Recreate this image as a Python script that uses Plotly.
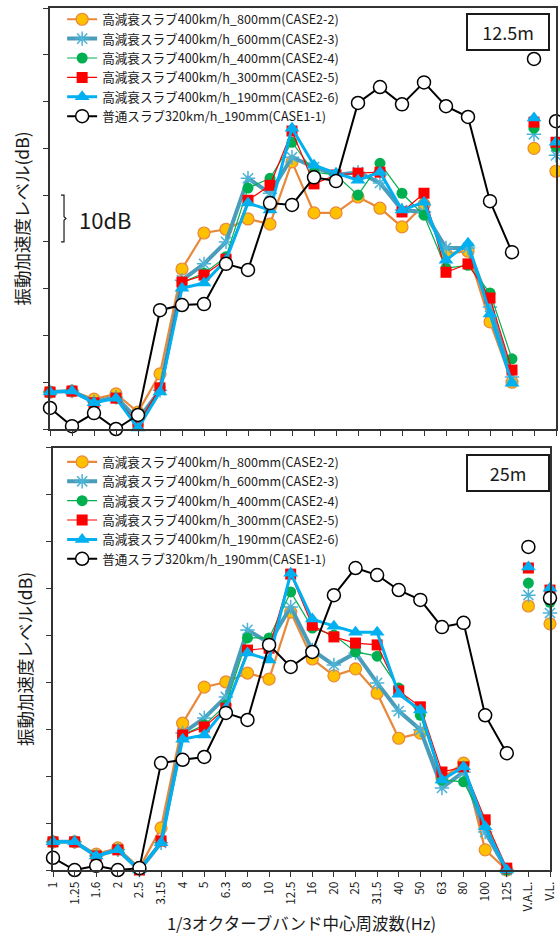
import plotly.graph_objects as go

# ---------------- data ----------------
categories = ["1", "1.25", "1.6", "2", "2.5", "3.15", "4", "5", "6.3", "8", "10", "12.5",
              "16", "20", "25", "31.5", "40", "50", "63", "80", "100", "125"]
overall_labels = ["V.A.L.", "V.L."]

series_names = [
    "高減衰スラブ400km/h_800mm(CASE2-2)",
    "高減衰スラブ400km/h_600mm(CASE2-3)",
    "高減衰スラブ400km/h_400mm(CASE2-4)",
    "高減衰スラブ400km/h_300mm(CASE2-5)",
    "高減衰スラブ400km/h_190mm(CASE2-6)",
    "普通スラブ320km/h_190mm(CASE1-1)",
]

# 12.5 m (relative dB)
case2_2_12m = [7.9, 8.1, 6.4, 7.5, 3.6, 11.8, 34.2, 41.9, 42.7, 44.9, 43.8, 57.1, 46.2, 46.2, 49.6, 47.2, 43.2, 48.0, 37.5, 38.0, 22.9, 10.0]
case2_3_12m = [7.9, 8.1, 5.8, 6.8, 2.0, 8.3, 31.8, 35.3, 40.0, 53.6, 50.4, 58.1, 56.0, 54.3, 54.9, 52.6, 46.8, 46.4, 38.7, 38.7, 26.1, 11.1]
case2_4_12m = [7.9, 8.1, 5.6, 6.6, 0.9, 8.8, 31.4, 33.3, 36.8, 51.5, 53.6, 61.3, 54.9, 54.3, 50.0, 56.8, 50.4, 45.7, 34.4, 35.0, 29.1, 15.0]
case2_5_12m = [7.9, 8.1, 5.6, 6.6, 1.1, 8.8, 31.4, 32.9, 36.3, 48.9, 52.1, 63.7, 52.4, 54.3, 54.7, 54.9, 46.4, 50.4, 33.5, 35.3, 28.0, 12.6]
case2_6_12m = [7.9, 8.1, 5.6, 6.6, 0.2, 7.9, 30.1, 31.2, 36.1, 48.3, 46.8, 64.3, 56.4, 54.7, 53.2, 54.9, 46.8, 48.5, 36.1, 39.7, 24.6, 9.8]
case1_1_12m = [4.5, 0.6, 3.4, 0.0, 3.0, 25.4, 26.5, 26.7, 35.3, 34.0, 48.3, 47.9, 53.8, 53.0, 69.7, 73.1, 69.4, 74.1, 69.0, 66.7, 48.7, 37.8]
case2_2_12m_all = [60.0, 55.1]
case2_3_12m_all = [63.0, 58.5]
case2_4_12m_all = [64.3, 60.3]
case2_5_12m_all = [65.6, 61.3]
case2_6_12m_all = [66.5, 61.3]
case1_1_12m_all = [79.1, 65.8]

# 25 m (relative dB)
case2_2_25m = [6.0, 6.0, 3.4, 4.7, 0.4, 9.0, 31.3, 39.0, 40.1, 42.0, 40.7, 55.0, 45.0, 41.4, 42.9, 37.7, 28.1, 29.2, 19.6, 22.8, 4.3, 0.0]
case2_3_25m = [6.0, 6.0, 3.0, 4.3, 0.0, 5.8, 29.2, 32.4, 36.9, 51.2, 48.4, 56.1, 46.9, 43.7, 46.3, 39.9, 33.9, 29.9, 17.5, 20.9, 8.1, 0.0]
case2_4_25m = [6.0, 6.0, 3.0, 4.3, 0.0, 6.2, 28.8, 30.9, 35.2, 49.5, 49.5, 59.3, 51.6, 50.1, 46.5, 45.6, 38.8, 33.0, 19.2, 18.8, 10.0, 0.0]
case2_5_25m = [6.0, 6.0, 3.0, 4.3, 0.0, 6.2, 28.8, 30.5, 34.5, 46.9, 47.3, 63.1, 52.2, 49.7, 48.4, 48.0, 38.2, 34.8, 20.9, 22.0, 10.7, 0.4]
case2_6_25m = [6.0, 6.0, 3.0, 4.3, 0.0, 5.8, 27.9, 28.8, 34.5, 46.3, 44.8, 63.3, 53.5, 52.0, 50.7, 50.7, 37.5, 34.1, 19.2, 22.0, 9.2, 0.0]
case1_1_25m = [2.6, 0.0, 0.9, 0.0, 0.4, 22.8, 23.5, 24.1, 33.5, 32.0, 48.0, 43.3, 46.5, 58.6, 64.4, 62.9, 59.7, 57.6, 51.8, 52.7, 33.0, 24.9]
case2_2_25m_all = [56.3, 52.5]
case2_3_25m_all = [58.6, 54.8]
case2_4_25m_all = [61.2, 57.1]
case2_5_25m_all = [64.4, 59.7]
case2_6_25m_all = [64.6, 60.1]
case1_1_25m_all = [68.9, 58.0]

panel_labels = ["12.5m", "25m"]

# ---------------- styles ----------------
styles = [
    dict(line=dict(color="#E8883A", width=2.2),
         marker=dict(symbol="circle", size=12, color="#FFC000", line=dict(color="#E8883A", width=1.2))),
    dict(line=dict(color="#4A9DBA", width=4),
         marker=dict(symbol="asterisk-open", size=12, color="#4BB3D6", line=dict(color="#4BB3D6", width=1.5))),
    dict(line=dict(color="#00B050", width=1.2),
         marker=dict(symbol="circle", size=11, color="#00B050", line=dict(width=0))),
    dict(line=dict(color="#FF0000", width=1.2),
         marker=dict(symbol="square", size=11, color="#FF0000", line=dict(width=0))),
    dict(line=dict(color="#00B0F0", width=3),
         marker=dict(symbol="triangle-up", size=13, color="#00B0F0", line=dict(width=0))),
    dict(line=dict(color="#000000", width=2),
         marker=dict(symbol="circle", size=13, color="#FFFFFF", line=dict(color="#000000", width=1.5))),
]

panels = [
    ([case2_2_12m, case2_3_12m, case2_4_12m, case2_5_12m, case2_6_12m, case1_1_12m],
     [case2_2_12m_all, case2_3_12m_all, case2_4_12m_all, case2_5_12m_all, case2_6_12m_all, case1_1_12m_all]),
    ([case2_2_25m, case2_3_25m, case2_4_25m, case2_5_25m, case2_6_25m, case1_1_25m],
     [case2_2_25m_all, case2_3_25m_all, case2_4_25m_all, case2_5_25m_all, case2_6_25m_all, case1_1_25m_all]),
]

fig = go.Figure()
axis_pairs = [("x", "y", "legend"), ("x2", "y2", "legend2")]
for (band_list, all_list), (xa, ya, lg) in zip(panels, axis_pairs):
    for name, vals, st in zip(series_names, band_list, styles):
        fig.add_trace(go.Scatter(
            x=categories, y=vals, name=name, mode="lines+markers",
            line=st["line"], marker=st["marker"], xaxis=xa, yaxis=ya,
            legend=lg, legendgroup=lg + name, cliponaxis=False))
    for name, vals, st in zip(series_names, all_list, styles):
        fig.add_trace(go.Scatter(
            x=overall_labels, y=vals, name=name, mode="markers",
            marker=st["marker"], xaxis=xa, yaxis=ya, showlegend=False,
            legend=lg, legendgroup=lg + name, cliponaxis=False))

all_cats = categories + overall_labels
font_family = "Noto Sans CJK JP, Noto Sans, sans-serif"
axis_line = dict(showline=True, linecolor="#333333", linewidth=1.5, mirror=True,
                 showgrid=False, zeroline=False, ticks="outside", ticklen=5,
                 tickcolor="#333333", tickwidth=1.2)

fig.update_layout(
    width=560, height=940,
    margin=dict(l=50, r=4, t=8, b=70),
    paper_bgcolor="white", plot_bgcolor="white",
    font=dict(family=font_family, color="#1a1a1a"),
    xaxis=dict(type="category", categoryorder="array", categoryarray=all_cats,
               range=[0, len(all_cats) - 1], domain=[0, 1], anchor="y",
               showticklabels=False, **axis_line),
    yaxis=dict(range=[0, 90], dtick=10, domain=[0.5116, 1.0], anchor="x",
               showticklabels=False, automargin=False,
               title=dict(text="振動加速度レベル(dB)", font=dict(size=17.5), standoff=9),
               **axis_line),
    xaxis2=dict(type="category", categoryorder="array", categoryarray=all_cats,
                range=[0, len(all_cats) - 1], domain=[3 / 506, 500 / 506], anchor="y2",
                tickangle=-90, tickfont=dict(size=12), automargin=False,
                title=dict(text="1/3オクターブバンド中心周波数(Hz)", font=dict(size=16.5), standoff=8),
                **axis_line),
    yaxis2=dict(range=[0, 90], dtick=10, domain=[0, 0.4896], anchor="x2",
                showticklabels=False, automargin=False,
                title=dict(text="振動加速度レベル(dB)", font=dict(size=17.5), standoff=9),
                **axis_line),
    legend=dict(x=0.024, y=1.004, xanchor="left", yanchor="top", bgcolor="rgba(0,0,0,0)",
                font=dict(size=12.6), itemwidth=30, tracegroupgap=0, traceorder="normal"),
    legend2=dict(x=0.024, y=0.4905, xanchor="left", yanchor="top", bgcolor="rgba(0,0,0,0)",
                 font=dict(size=12.6), itemwidth=30, tracegroupgap=0, traceorder="normal"),
    showlegend=True,
)

# panel label boxes
for label, ycen in zip(panel_labels, [0.972, 0.4606]):
    fig.add_annotation(xref="paper", yref="paper", x=0.905, y=ycen, text=label,
                       xanchor="center", yanchor="middle",
                       showarrow=False, font=dict(size=18, color="#1a1a1a"),
                       bordercolor="#1a1a1a", borderwidth=2, borderpad=4,
                       width=72, height=26, bgcolor="white")

# 10 dB scale bracket (in y data units)
fig.add_shape(type="path", xref="paper", yref="y",
              path="M 0.0217,50 L 0.0277,50 L 0.0277,45.4 L 0.0316,45 L 0.0277,44.6 L 0.0277,40 L 0.0217,40",
              line=dict(color="#1a1a1a", width=1.2))
fig.add_annotation(xref="paper", yref="y", x=0.053, y=45, text="10dB", showarrow=False,
                   xanchor="left", yanchor="middle",
                   font=dict(size=22, color="#1a1a1a"))

fig.write_html("out.html",
               config={"displayModeBar": False},
               post_script="document.body.style.margin='0px';"
                           "document.documentElement.style.overflow='hidden';")
